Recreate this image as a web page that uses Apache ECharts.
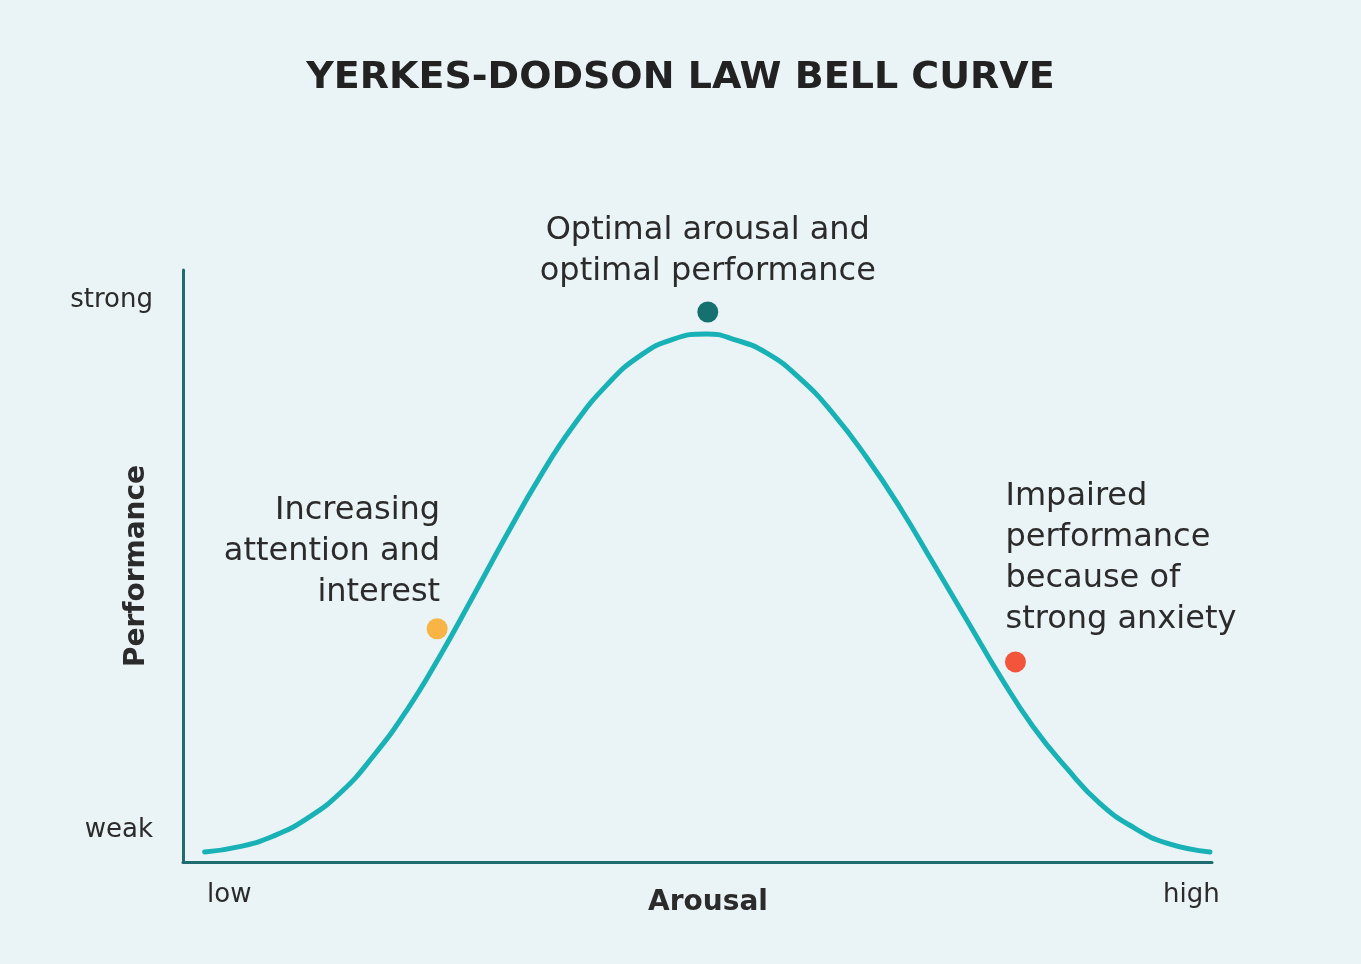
<!DOCTYPE html>
<html>
<head>
<meta charset="utf-8">
<title>Yerkes-Dodson Law Bell Curve</title>
<script src="https://cdn.jsdelivr.net/npm/echarts@6/dist/echarts.min.js"></script>
<style>
  html, body { margin: 0; padding: 0; background: #eaf3f5; }
  #chart { width: 1361px; height: 964px; }
</style>
</head>
<body>
<div id="chart"></div>
<script>
// curve: arousal (0-100) vs performance (0-100)
const arousal = [2.1, 5.5, 8.8, 12.0, 15.3, 18.5, 21.7, 25.0, 28.2, 31.5, 34.7, 37.9, 41.2, 44.4, 47.6, 50.9,
  53.5, 56.7, 60.0, 63.2, 66.4, 69.7, 72.9, 76.2, 79.4, 82.6, 85.9, 89.1, 92.4, 95.6, 99.8];
const performance = [1.7, 2.6, 4.4, 7.3, 11.7, 17.9, 25.5, 34.9, 44.9, 55.4, 65.1, 73.6, 80.6, 85.5, 88.3, 89.2,
  88.3, 86.0, 81.6, 75.7, 68.4, 59.8, 50.5, 40.8, 31.4, 22.9, 15.8, 9.9, 5.8, 3.2, 1.7];

// annotated points
const pointLabels = [
  'Increasing\nattention and\ninterest',
  'Optimal arousal and\noptimal performance',
  'Impaired\nperformance\nbecause of\nstrong anxiety',
];
const pointX = [24.7, 51.0, 80.9];
const pointY = [39.4, 92.9, 33.8];

// axis end labels
const xTickValues = [4.5, 98];
const xTickLabels = ['low', 'high'];
const yTickValues = [5.4, 94.9];
const yTickLabels = ['weak', 'strong'];

const FONT = '"DejaVu Sans", "Open Sans", sans-serif';
const TEXT = '#2b2b2b';
const AXIS = '#1f6c70';

// per-point look: colour and where the note sits
const dotStyles = [
  { color: '#f8b445', label: { position: 'top', align: 'right', offset: [3, 0], distance: 5 } },
  { color: '#157170', label: { position: 'top', align: 'center', offset: [0, 0], distance: 9 } },
  { color: '#f2553b', label: { position: 'top', align: 'left', offset: [-10, 0], distance: 11 } },
];

const chart = echarts.init(document.getElementById('chart'));

const option = {
  backgroundColor: '#eaf3f5',
  title: {
    text: 'YERKES-DODSON LAW BELL CURVE',
    left: 'center',
    top: 59,
    padding: 0,
    textStyle: { fontFamily: FONT, fontSize: 38, fontWeight: 'bold', color: '#222' },
  },
  grid: { left: 183, right: 149, top: 270, bottom: 102 },
  xAxis: {
    type: 'value',
    min: 0,
    max: 100,
    name: 'Arousal',
    nameLocation: 'middle',
    nameGap: 27,
    nameMoveOverlap: false,
    nameTextStyle: {
      fontFamily: FONT, fontSize: 28, fontWeight: 'bold', color: TEXT,
      verticalAlign: 'top', padding: [0, 0, 0, 21],
    },
    axisLine: { show: true, lineStyle: { color: AXIS, width: 3 } },
    axisTick: { show: false },
    splitLine: { show: false },
    axisLabel: {
      customValues: xTickValues,
      formatter: (v) => xTickLabels[xTickValues.indexOf(v)] || '',
      margin: 20,
      fontFamily: FONT,
      fontSize: 26,
      color: TEXT,
    },
  },
  yAxis: {
    type: 'value',
    min: 0,
    max: 100,
    name: 'Performance',
    nameLocation: 'middle',
    nameGap: 32,
    nameMoveOverlap: false,
    nameTextStyle: { fontFamily: FONT, fontSize: 28, fontWeight: 'bold', color: TEXT, verticalAlign: 'bottom' },
    axisLine: { show: true, lineStyle: { color: AXIS, width: 3 } },
    axisTick: { show: false },
    splitLine: { show: false },
    axisLabel: {
      customValues: yTickValues,
      formatter: (v) => yTickLabels[yTickValues.indexOf(v)] || '',
      margin: 30,
      fontFamily: FONT,
      fontSize: 26,
      color: TEXT,
    },
  },
  series: [
    {
      name: 'performance',
      type: 'line',
      smooth: true,
      showSymbol: false,
      lineStyle: { color: '#17b1b6', width: 5, cap: 'round' },
      data: arousal.map((x, i) => [x, performance[i]]),
      z: 2,
    },
    {
      name: 'notes',
      type: 'scatter',
      symbolSize: 21,
      z: 3,
      data: pointX.map((x, i) => ({
        value: [x, pointY[i]],
        itemStyle: { color: dotStyles[i].color, opacity: 1 },
        label: Object.assign({
          show: true,
          formatter: pointLabels[i],
          fontFamily: FONT,
          fontSize: 32,
          lineHeight: 41,
          color: TEXT,
          opacity: 1,
        }, dotStyles[i].label),
      })),
    },
  ],
};

chart.setOption(option);
</script>
</body>
</html>
